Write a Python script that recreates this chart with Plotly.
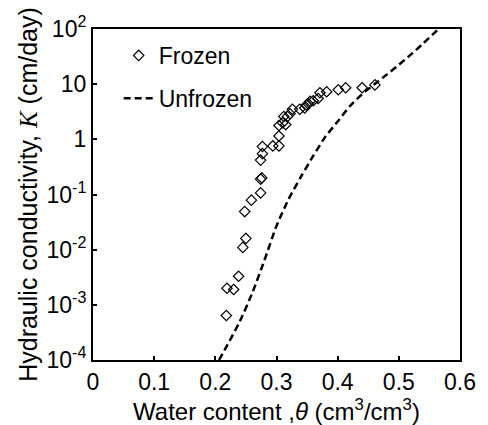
import plotly.graph_objects as go

# Frozen measurements (water content, hydraulic conductivity cm/day)
frozen_theta = [0.218, 0.219, 0.230, 0.238, 0.245, 0.250, 0.248, 0.259, 0.274, 0.274,
                0.276, 0.274, 0.277, 0.277, 0.294, 0.304, 0.304, 0.304, 0.310, 0.315,
                0.312, 0.318, 0.322, 0.326, 0.338, 0.346, 0.349, 0.352, 0.355, 0.360,
                0.368, 0.371, 0.382, 0.401, 0.413, 0.440, 0.461]
frozen_K = [0.00064, 0.0020, 0.0019, 0.0033, 0.011, 0.016, 0.049, 0.079, 0.107, 0.19,
            0.20, 0.42, 0.55, 0.74, 0.76, 0.76, 1.15, 1.78, 2.0, 1.85,
            2.6, 2.6, 2.9, 3.5, 3.5, 3.7, 4.2, 4.4, 4.9, 5.0,
            5.5, 7.0, 7.3, 7.9, 8.6, 8.6, 9.7]

# Unfrozen curve
unfrozen_theta = [0.206, 0.22, 0.24, 0.26, 0.28, 0.30, 0.32, 0.34, 0.36, 0.38,
                  0.40, 0.42, 0.44, 0.46, 0.48, 0.50, 0.52, 0.54, 0.565]
unfrozen_K = [1e-4, 1.9e-4, 5e-4, 1.6e-3, 6.3e-3, 0.027, 0.083, 0.21, 0.5, 1.12,
              2.1, 4.0, 6.6, 10, 14.8, 22.4, 34.7, 55, 100]

y_tickvals = [1e-4, 1e-3, 1e-2, 1e-1, 1, 10, 100]
y_ticktext = ["10<sup>-4</sup>", "10<sup>-3</sup>", "10<sup>-2</sup>", "10<sup>-1</sup>",
              "1", "10", "10<sup>2</sup>"]
x_tickvals = [0, 0.1, 0.2, 0.3, 0.4, 0.5, 0.6]
x_ticktext = ["0", "0.1", "0.2", "0.3", "0.4", "0.5", "0.6"]

fig = go.Figure()
fig.add_trace(go.Scatter(
    x=frozen_theta, y=frozen_K, mode="markers", name="Frozen", legendgroup="a",
    marker=dict(symbol="diamond-open", size=8, color="black", line=dict(width=1.2, color="black")),
))
fig.add_trace(go.Scatter(
    x=unfrozen_theta, y=unfrozen_K, mode="lines", name="Unfrozen", legendgroup="b",
    line=dict(color="black", width=2.5, dash="7px,4px", shape="spline", smoothing=0.6),
))

fig.update_layout(
    width=488, height=425,
    margin=dict(l=93, r=20, t=22, b=60),
    paper_bgcolor="white", plot_bgcolor="white",
    font=dict(family="Liberation Sans, Arial, sans-serif", size=23, color="black"),
    showlegend=True,
    legend=dict(x=0.07, y=0.985, xanchor="left", yanchor="top", bgcolor="rgba(0,0,0,0)",
                font=dict(size=23), tracegroupgap=10, traceorder="grouped"),
    xaxis=dict(
        range=[0, 0.6], tickvals=x_tickvals, ticktext=x_ticktext,
        showline=True, linecolor="black", linewidth=2, mirror=True,
        ticks="inside", ticklen=4, tickwidth=1.5, tickcolor="black",
        showgrid=False, zeroline=False, tickfont=dict(size=23),
        title=dict(text="Water content ,<i>θ</i> (cm<sup>3</sup>/cm<sup>3</sup>)", standoff=2,
                   font=dict(size=24)),
    ),
    yaxis=dict(
        type="log", range=[-4, 2], tickvals=y_tickvals, ticktext=y_ticktext,
        showline=True, linecolor="black", linewidth=2, mirror=True,
        ticks="inside", ticklen=4, tickwidth=1.5, tickcolor="black",
        showgrid=False, zeroline=False, tickfont=dict(size=23),
        title=dict(text="Hydraulic conductivity, <span style='font-family:Liberation Serif'><i>K</i></span> (cm/day)",
                   standoff=2, font=dict(size=25)),
    ),
)

fig.write_html("out.html")
